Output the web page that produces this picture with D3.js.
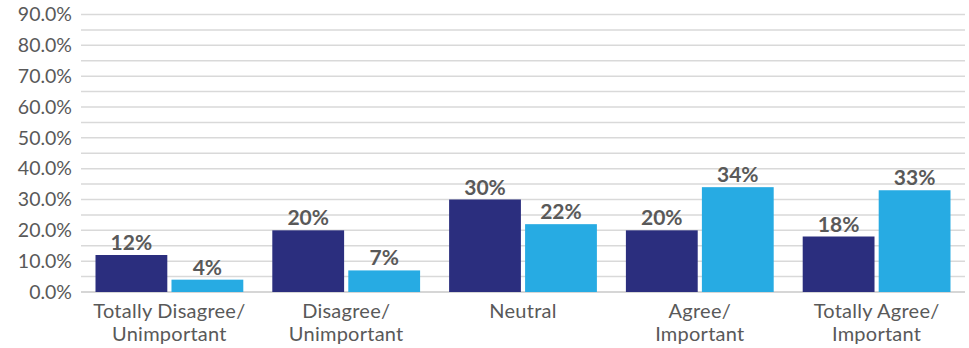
<!DOCTYPE html>
<html>
<head>
<meta charset="utf-8">
<script src="https://cdn.jsdelivr.net/npm/d3@7"></script>
<style>
  html, body { margin: 0; padding: 0; background: #fff; }
  svg { display: block; font-family: Lato, "Open Sans", sans-serif; }
</style>
</head>
<body>
<svg id="chart" width="969" height="348"></svg>
<script>
// Response categories (each label split over two lines)
const categories = [
  ["Totally Disagree/", "Unimportant"],
  ["Disagree/", "Unimportant"],
  ["Neutral"],
  ["Agree/", "Important"],
  ["Totally Agree/", "Important"]
];
const seriesA = [12, 20, 30, 20, 18];   // dark bars
const seriesB = [4, 7, 22, 34, 33];     // light bars
const seriesNames = ["A", "B"];
const tickValues = [0, 10, 20, 30, 40, 50, 60, 70, 80, 90];
const gridValues = [0, 5, 10, 15, 20, 25, 30, 35, 40, 45, 50, 55, 60, 65, 70, 75, 80, 85, 90];

const colors = { A: "#2b2e7e", B: "#27abe3" };

const svg = d3.select("#chart");
const margin = { left: 81, right: 4, top: 14.5, bottom: 56 };
const W = 969, H = 348;

const x = d3.scaleBand()
  .domain(d3.range(categories.length))
  .range([margin.left, W - margin.right])
  .paddingInner(0)
  .paddingOuter(0);

const xInner = d3.scaleBand()
  .domain(seriesNames)
  .range([14.5, x.bandwidth() - 14.5])
  .paddingInner(0.055);

const y = d3.scaleLinear().domain([0, 90]).range([H - margin.bottom, margin.top]);

// Gridlines
svg.append("g")
  .selectAll("line")
  .data(gridValues)
  .join("line")
  .attr("x1", margin.left)
  .attr("x2", W - margin.right)
  .attr("y1", d => y(d))
  .attr("y2", d => y(d))
  .attr("stroke", d => d === 0 ? "#c8c8c8" : "#d9d9d9")
  .attr("stroke-width", 1.5);

// Y axis labels
const yAxis = d3.axisLeft(y)
  .tickValues(tickValues)
  .tickFormat(d => d.toFixed(1) + "%")
  .tickSize(0)
  .tickPadding(9);
const yg = svg.append("g")
  .attr("transform", `translate(${margin.left},0)`)
  .call(yAxis);
yg.select(".domain").remove();
yg.selectAll("text")
  .attr("fill", "#595959")
  .style("font-size", "19.5px")
  .style("font-family", "Lato, sans-serif");

// Bars
const rows = categories.map((c, i) => ({ i, A: seriesA[i], B: seriesB[i] }));
const groups = svg.append("g")
  .selectAll("g")
  .data(rows)
  .join("g")
  .attr("transform", d => `translate(${x(d.i)},0)`);

groups.selectAll("rect")
  .data(d => seriesNames.map(k => ({ key: k, value: d[k] })))
  .join("rect")
  .attr("x", d => xInner(d.key))
  .attr("width", xInner.bandwidth())
  .attr("y", d => y(d.value))
  .attr("height", d => y(0) - y(d.value))
  .attr("fill", d => colors[d.key]);

// Value labels
groups.selectAll("text.val")
  .data(d => seriesNames.map(k => ({ key: k, value: d[k] })))
  .join("text")
  .attr("class", "val")
  .attr("x", d => xInner(d.key) + xInner.bandwidth() / 2)
  .attr("y", d => y(d.value) - 5)
  .attr("text-anchor", "middle")
  .attr("fill", "#595959")
  .style("font-size", "21px")
  .style("font-weight", "bold")
  .text(d => d.value + "%");

// Category labels, one text element per line
const xg = svg.append("g");
categories.forEach((lines, i) => {
  lines.forEach((ln, j) => {
    xg.append("text")
      .attr("x", x(i) + x.bandwidth() / 2)
      .attr("y", 317.5 + j * 23)
      .attr("text-anchor", "middle")
      .attr("fill", "#595959")
      .style("font-size", "20px")
      .style("letter-spacing", "0.25px")
      .text(ln);
  });
});
</script>
</body>
</html>
